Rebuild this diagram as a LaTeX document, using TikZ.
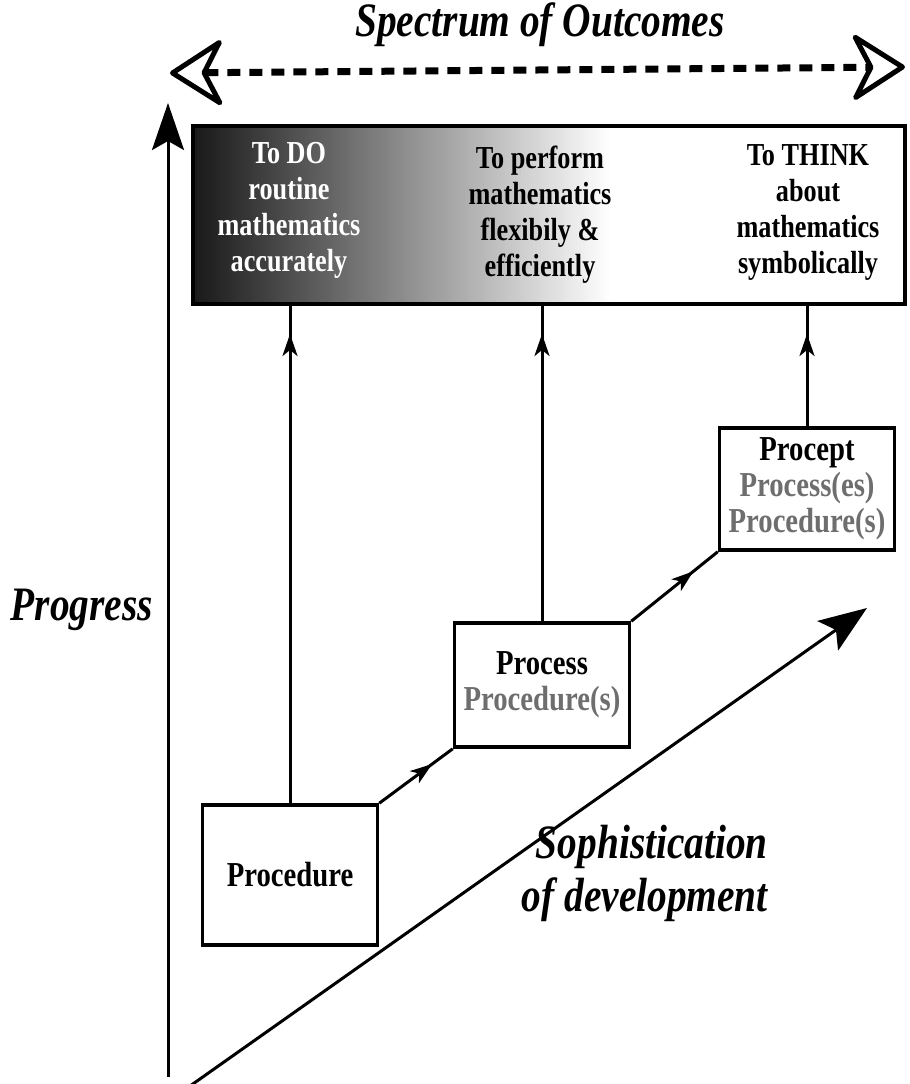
\documentclass[tikz,border=0pt]{standalone}
\usepackage{fontspec}
\setmainfont[FakeStretch=0.82]{Liberation Serif}
\usepackage{tikz}
\usetikzlibrary{arrows.meta,decorations.markings}
\definecolor{oldgray}{RGB}{110,110,110}

\begin{document}
\begin{tikzpicture}[x=1pt,y=-1pt,openhead/.tip={Stealth[open,round,length=58pt,width=74pt,inset=19pt,line width=5pt]}]
\tikzstyle{every node}=[inner sep=0pt,align=center];
\tikzstyle{stage}=[draw,line width=3.5pt,minimum width=175pt,font=\fontsize{35}{36}\selectfont\bfseries];
\tikzstyle{goal}=[font=\fontsize{32}{36}\selectfont\bfseries];
\tikzstyle{bigit}=[font=\fontsize{48}{53}\selectfont\bfseries\itshape];
\tikzstyle{link}=[line width=3pt,postaction={decorate}];
\tikzstyle{uplink}=[link,decoration={markings,mark=at position -28pt with {\arrow{Stealth[length=22pt,width=15pt,inset=6pt]}}}];
\tikzstyle{steplink}=[link,decoration={markings,mark=at position 0.72 with {\arrow{Stealth[length=22pt,width=15pt,inset=6pt]}}}];
\useasboundingbox (0,0) rectangle (910,1084);

% shaded left part of the outcomes box
\foreach \i in {0,...,104} {
  \pgfmathsetmacro\tone{90*(1-\i/104)}
  \fill[black!\tone] (193+\i*4,126) rectangle (197.5+\i*4,304);
}
\path (549,215) node[draw,line width=4pt,minimum width=712pt,minimum height=178pt] (outcomes) {};
\path (289,210) node[goal,text=white] (doit) {To DO\\routine\\mathematics\\accurately};
\path (540,215) node[goal] (perform) {To perform\\mathematics\\flexibily \&\\efficiently};
\path (808,212) node[goal] (think) {To THINK\\about\\mathematics\\symbolically};

% spectrum
\path (540,25) node[bigit] (spectrum) {Spectrum of Outcomes};
\coordinate (specL) at (170,73);
\coordinate (specR) at (905,67);
\draw[line width=7pt,dash pattern=on 13pt off 9pt,openhead-openhead] (specL) -- (specR);

% stages
\path (290,875) node[stage,minimum height=140pt] (procedure) {Procedure};
\path (542,685) node[stage,minimum height=124pt] (process) {Process\\\textcolor{oldgray}{Procedure(s)}};
\path (807,489) node[stage,minimum height=122pt] (procept) {Procept\\\textcolor{oldgray}{Process(es)}\\\textcolor{oldgray}{Procedure(s)}};

\draw[uplink] (procedure.north) -- (procedure.north |- outcomes.south);
\draw[uplink] (process.north) -- (process.north |- outcomes.south);
\draw[uplink] (procept.north) -- (procept.north |- outcomes.south);
\draw[steplink] (procedure.north east) -- (process.south west);
\draw[steplink] (process.north east) -- (procept.south west);

% axes
\coordinate (pbase) at (168,1077);
\coordinate (ptip) at (168,103);
\draw[line width=3pt,-{Stealth[length=47pt,width=32pt,inset=9pt]}] (pbase) -- (ptip);
\path (82,610) node[bigit] (progress) {Progress};
\coordinate (sbase) at (190,1086);
\coordinate (stip) at (867,608);
\draw[line width=3pt,-{Stealth[length=48pt,width=36pt,inset=10pt]}] (sbase) -- (stip);
\path (768,873) node[bigit,align=right,anchor=east] (soph) {Sophistication\\of development};
\end{tikzpicture}
\end{document}
